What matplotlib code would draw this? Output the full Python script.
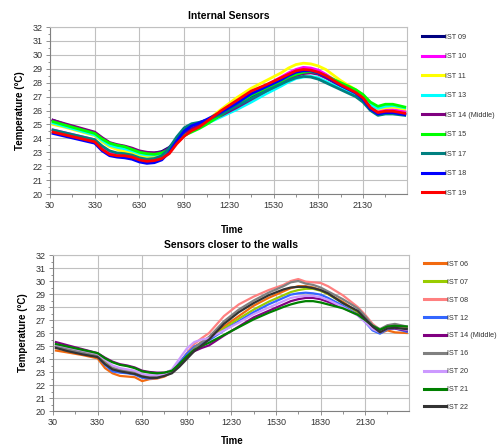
import matplotlib
matplotlib.use("Agg")
import matplotlib.pyplot as plt
from matplotlib.ticker import MultipleLocator, FixedLocator

# ---------------- data ----------------
hours = [0.7, 1.5, 2.5, 3.5, 4.0, 4.5, 5.0, 5.5, 6.0, 6.5, 7.0, 7.5, 8.0, 8.5, 9.0,
         9.5, 10.0, 10.5, 11.0, 12.0, 13.0, 14.0, 15.0, 16.0, 16.5, 17.0, 17.5, 18.0,
         18.5, 19.0, 20.0, 21.0, 21.5, 22.0, 22.5, 23.0, 23.5, 24.3]

tick_hours = [0.5, 3.5, 6.5, 9.5, 12.5, 15.5, 18.5, 21.5]
tick_labels = ["30", "330", "630", "930", "1230", "1530", "1830", "2130"]

# Internal sensors
ist09 = [25.3, 25.0, 24.7, 24.4, 24.0, 23.65, 23.5, 23.4, 23.25, 23.05, 22.95, 22.95, 23.05, 23.35, 23.9, 24.6, 24.95, 25.1, 25.3, 25.8, 26.4, 27.0, 27.6, 28.15, 28.45, 28.7, 28.85, 28.85, 28.7, 28.4, 27.75, 27.25, 26.85, 26.1, 25.75, 25.85, 25.85, 25.75]
ist10 = [24.6, 24.4, 24.15, 23.9, 23.4, 23.0, 22.9, 22.85, 22.75, 22.55, 22.45, 22.5, 22.7, 23.1, 23.7, 24.2, 24.6, 24.85, 25.2, 25.95, 26.6, 27.3, 27.8, 28.4, 28.7, 28.95, 29.1, 29.05, 28.9, 28.6, 27.9, 27.35, 26.95, 26.3, 25.95, 26.05, 26.05, 25.95]
ist11 = [25.0, 24.8, 24.5, 24.2, 23.75, 23.4, 23.2, 23.05, 22.95, 22.75, 22.65, 22.65, 22.75, 23.1, 23.7, 24.2, 24.55, 24.85, 25.25, 26.1, 26.9, 27.6, 28.15, 28.7, 29.05, 29.3, 29.4, 29.35, 29.2, 28.95, 28.15, 27.5, 27.1, 26.5, 26.1, 26.2, 26.25, 26.1]
ist13 = [25.1, 24.85, 24.55, 24.25, 23.85, 23.5, 23.35, 23.25, 23.1, 22.9, 22.8, 22.8, 22.9, 23.2, 23.75, 24.3, 24.6, 24.8, 25.05, 25.55, 26.05, 26.6, 27.2, 27.75, 28.05, 28.3, 28.4, 28.45, 28.35, 28.1, 27.6, 27.15, 26.8, 26.4, 26.15, 26.3, 26.35, 26.2]
ist14 = [25.3, 25.05, 24.75, 24.45, 24.05, 23.7, 23.55, 23.45, 23.3, 23.1, 23.0, 22.95, 23.0, 23.3, 23.85, 24.4, 24.7, 24.95, 25.2, 25.65, 26.2, 26.8, 27.4, 27.95, 28.25, 28.5, 28.65, 28.7, 28.6, 28.35, 27.8, 27.3, 26.9, 26.2, 25.8, 25.9, 25.9, 25.75]
ist15 = [25.2, 24.95, 24.65, 24.35, 23.95, 23.65, 23.5, 23.4, 23.2, 23.0, 22.9, 22.85, 22.95, 23.2, 23.7, 24.2, 24.45, 24.7, 25.0, 25.7, 26.4, 27.1, 27.6, 28.1, 28.4, 28.6, 28.75, 28.8, 28.7, 28.5, 28.0, 27.5, 27.15, 26.6, 26.3, 26.45, 26.45, 26.25]
ist17 = [24.6, 24.4, 24.15, 23.9, 23.45, 23.1, 22.95, 22.9, 22.8, 22.6, 22.5, 22.55, 22.75, 23.3, 24.1, 24.75, 25.05, 25.15, 25.3, 25.75, 26.3, 26.85, 27.4, 27.9, 28.15, 28.35, 28.45, 28.4, 28.25, 28.0, 27.5, 27.0, 26.6, 26.0, 25.65, 25.75, 25.75, 25.65]
ist18 = [24.35, 24.15, 23.9, 23.65, 23.1, 22.75, 22.65, 22.6, 22.5, 22.3, 22.2, 22.25, 22.45, 23.0, 23.8, 24.5, 24.9, 25.1, 25.35, 25.9, 26.5, 27.2, 27.7, 28.2, 28.5, 28.75, 28.85, 28.85, 28.7, 28.45, 27.8, 27.25, 26.8, 26.1, 25.75, 25.85, 25.85, 25.7]
ist19 = [24.45, 24.25, 24.0, 23.75, 23.2, 22.85, 22.75, 22.75, 22.65, 22.45, 22.35, 22.4, 22.55, 22.9, 23.6, 24.15, 24.55, 24.8, 25.2, 26.0, 26.7, 27.4, 27.85, 28.35, 28.6, 28.85, 28.95, 28.9, 28.75, 28.5, 27.85, 27.3, 26.9, 26.2, 25.85, 25.95, 25.95, 25.8]

# Sensors closer to the walls
ist06 = [24.65, 24.5, 24.3, 24.05, 23.3, 22.9, 22.7, 22.65, 22.6, 22.3, 22.45, 22.5, 22.65, 23.0, 23.6, 24.3, 24.9, 25.3, 25.6, 26.5, 27.3, 28.1, 28.7, 29.2, 29.45, 29.6, 29.6, 29.5, 29.3, 29.0, 28.4, 27.6, 27.1, 26.5, 26.0, 26.2, 26.05, 26.0]
ist07 = [25.0, 24.8, 24.55, 24.3, 23.8, 23.35, 23.15, 23.05, 22.95, 22.75, 22.65, 22.7, 22.85, 23.1, 23.7, 24.4, 24.9, 25.2, 25.5, 26.35, 27.1, 27.8, 28.4, 28.9, 29.15, 29.3, 29.4, 29.4, 29.25, 29.0, 28.3, 27.6, 27.1, 26.5, 26.2, 26.4, 26.45, 26.3]
ist08 = [24.9, 24.7, 24.45, 24.2, 23.6, 23.2, 23.0, 22.95, 22.85, 22.6, 22.5, 22.55, 22.75, 23.05, 23.6, 24.45, 25.15, 25.6, 26.0, 27.3, 28.2, 28.8, 29.3, 29.7, 30.0, 30.15, 29.95, 29.9, 29.85, 29.6, 28.9, 28.0, 27.4, 26.7, 26.25, 26.55, 26.6, 26.4]
ist12 = [24.9, 24.7, 24.45, 24.2, 23.55, 23.05, 22.95, 22.9, 22.8, 22.55, 22.5, 22.55, 22.75, 23.05, 23.7, 24.4, 24.95, 25.2, 25.45, 26.2, 26.9, 27.6, 28.2, 28.7, 28.95, 29.05, 29.1, 29.05, 28.95, 28.7, 28.1, 27.4, 26.85, 26.2, 25.95, 26.3, 26.35, 26.1]
ist14w = [25.3, 25.05, 24.75, 24.45, 24.1, 23.8, 23.6, 23.5, 23.35, 23.1, 23.0, 22.95, 22.95, 23.1, 23.6, 24.2, 24.6, 24.85, 25.05, 25.8, 26.5, 27.2, 27.7, 28.2, 28.45, 28.6, 28.7, 28.7, 28.6, 28.4, 27.95, 27.4, 26.9, 26.4, 26.15, 26.35, 26.35, 26.2]
ist16 = [25.0, 24.75, 24.5, 24.25, 23.7, 23.3, 23.15, 23.05, 22.95, 22.7, 22.6, 22.6, 22.75, 22.95, 23.5, 24.2, 24.85, 25.3, 25.7, 26.9, 27.8, 28.5, 29.1, 29.6, 29.9, 30.0, 29.8, 29.7, 29.5, 29.2, 28.6, 27.9, 27.3, 26.6, 26.3, 26.6, 26.7, 26.5]
ist20 = [25.1, 24.9, 24.65, 24.4, 23.95, 23.5, 23.3, 23.2, 23.1, 22.85, 22.75, 22.75, 22.85, 23.2, 24.0, 24.8, 25.3, 25.5, 25.6, 26.2, 26.8, 27.45, 27.95, 28.45, 28.7, 28.8, 28.85, 28.85, 28.75, 28.55, 28.0, 27.35, 26.85, 26.3, 26.05, 26.35, 26.4, 26.25]
ist21 = [25.15, 24.95, 24.7, 24.45, 24.05, 23.75, 23.55, 23.45, 23.3, 23.05, 22.95, 22.9, 22.95, 23.1, 23.6, 24.2, 24.7, 25.0, 25.25, 25.85, 26.45, 27.05, 27.55, 28.0, 28.2, 28.35, 28.45, 28.45, 28.35, 28.2, 27.9, 27.4, 27.0, 26.55, 26.25, 26.5, 26.55, 26.5]
ist22 = [24.85, 24.6, 24.35, 24.15, 23.6, 23.2, 23.05, 22.95, 22.85, 22.65, 22.55, 22.55, 22.7, 22.9, 23.4, 24.0, 24.6, 25.05, 25.5, 26.7, 27.6, 28.3, 28.9, 29.35, 29.5, 29.55, 29.55, 29.45, 29.3, 29.05, 28.3, 27.7, 27.1, 26.5, 26.05, 26.35, 26.4, 26.3]

top_labels = ["IST 09", "IST 10", "IST 11", "IST 13", "IST 14 (Middle)", "IST 15", "IST 17", "IST 18", "IST 19"]
top_series = [ist09, ist10, ist11, ist13, ist14, ist15, ist17, ist18, ist19]
top_colors = ["#000080", "#FF00FF", "#FFFF00", "#00FFFF", "#800080", "#00FF00", "#008080", "#0000FF", "#FF0000"]

bot_labels = ["IST 06", "IST 07", "IST 08", "IST 12", "IST 14 (Middle)", "IST 16", "IST 20", "IST 21", "IST 22"]
bot_series = [ist06, ist07, ist08, ist12, ist14w, ist16, ist20, ist21, ist22]
bot_colors = ["#F26A10", "#99CC00", "#FF8080", "#3366FF", "#800080", "#808080", "#CC99FF", "#008000", "#333333"]

# ---------------- figure ----------------
plt.rcParams['font.family'] = ['Liberation Sans Narrow', 'Liberation Sans', 'DejaVu Sans']

fig = plt.figure(figsize=(4.98, 4.48), dpi=100)
W, H = 498.0, 448.0

def px_axes(l, t, r, b):
    return fig.add_axes([l / W, 1 - b / H, (r - l) / W, (b - t) / H])

ax1 = px_axes(50, 27, 407, 194)
ax2 = px_axes(53, 255, 409, 411)

def style(ax):
    ax.set_xlim(0.5, 24.45)
    ax.set_ylim(20, 32)
    ax.yaxis.set_major_locator(MultipleLocator(1))
    ax.yaxis.set_minor_locator(MultipleLocator(0.5))
    ax.xaxis.set_major_locator(FixedLocator(tick_hours))
    ax.set_xticklabels(tick_labels)
    ax.xaxis.set_minor_locator(FixedLocator([h + 1.5 for h in tick_hours]))
    ax.grid(True, which='major', color='#C0C0C0', linewidth=0.8)
    ax.set_axisbelow(True)
    for s in ['top', 'right']:
        ax.spines[s].set_color('#C0C0C0')
        ax.spines[s].set_linewidth(0.8)
    for s in ['left', 'bottom']:
        ax.spines[s].set_color('#808080')
        ax.spines[s].set_linewidth(0.8)
    ax.tick_params(which='major', length=3, width=0.6, color='#808080', labelsize=6.5,
                   labelcolor='#333333', pad=2)
    ax.tick_params(which='minor', length=1.8, width=0.6, color='#808080')
    ax.set_ylabel("Temperature (°C)", fontsize=7, fontweight='bold',
                  family=['Liberation Sans', 'DejaVu Sans'], labelpad=6)

style(ax1)
style(ax2)

for vals, c, lab in zip(top_series, top_colors, top_labels):
    ax1.plot(hours, vals, color=c, linewidth=2.0, label=lab, solid_joinstyle='round')
for vals, c, lab in zip(bot_series, bot_colors, bot_labels):
    ax2.plot(hours, vals, color=c, linewidth=1.6, label=lab, solid_joinstyle='round')

ax1.set_title("Internal Sensors", fontsize=7.5, fontweight='bold',
              family=['Liberation Sans', 'DejaVu Sans'], pad=6)
ax2.set_title("Sensors closer to the walls", fontsize=7.5, fontweight='bold',
              family=['Liberation Sans', 'DejaVu Sans'], pad=5)

fig.text(232 / W, 1 - 230 / H, "Time", ha='center', va='center', fontsize=7,
         fontweight='bold', family=['Liberation Sans', 'DejaVu Sans'])
fig.text(232 / W, 1 - 441 / H, "Time", ha='center', va='center', fontsize=7,
         fontweight='bold', family=['Liberation Sans', 'DejaVu Sans'])

leg1 = ax1.legend(loc='upper left', bbox_to_anchor=(422 / W, 1 - 33.8 / H),
                  bbox_transform=fig.transFigure, frameon=False, fontsize=5.2,
                  handlelength=3.05, handletextpad=0.2, labelspacing=1.72,
                  borderaxespad=0, borderpad=0)
leg2 = ax2.legend(loc='upper left', bbox_to_anchor=(424 / W, 1 - 260.8 / H),
                  bbox_transform=fig.transFigure, frameon=False, fontsize=5.2,
                  handlelength=3.1, handletextpad=0.12, labelspacing=1.5,
                  borderaxespad=0, borderpad=0)
for leg in (leg1, leg2):
    for t in leg.get_texts():
        t.set_color('#333333')
    for l in leg.get_lines():
        l.set_linewidth(2.2)

fig.savefig("out.png", dpi=100)
